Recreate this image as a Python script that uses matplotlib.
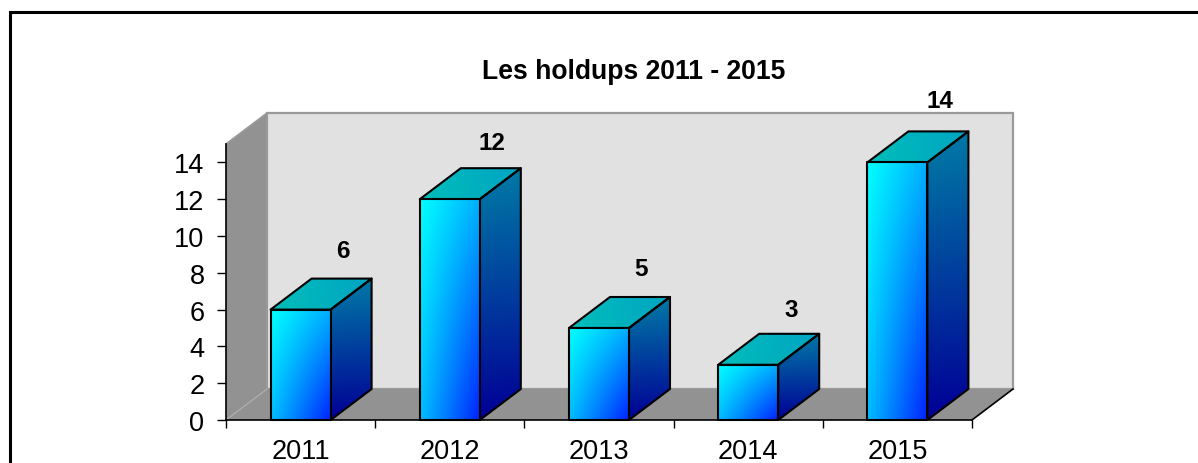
import numpy as np
import matplotlib
matplotlib.use("Agg")
import matplotlib.pyplot as plt
from matplotlib.patches import Polygon
from matplotlib.lines import Line2D

plt.rcParams['font.family'] = ['Liberation Sans', 'DejaVu Sans']

# Data
years = ['2011', '2012', '2013', '2014', '2015']
holdups = [6, 12, 5, 3, 14]
yticks = [0, 2, 4, 6, 8, 10, 12, 14]
title = 'Les holdups 2011 - 2015'

W, H = 1198, 464
DPI = 100
fig = plt.figure(figsize=(W / DPI, H / DPI), dpi=DPI, facecolor='white')

# front plane of the 3D chart, in pixels
L, R, B, T = 226.0, 972.0, 421.0, 145.0
ax = fig.add_axes([L / W, 1 - B / H, (R - L) / W, (B - T) / H])
XMAX, YMAX = len(years), 15.0
ax.set_facecolor('none')
ax.set_xlim(0, XMAX)
ax.set_ylim(0, YMAX)

# depth in data units
DX = 41.0 * XMAX / (R - L)
DY = 31.0 * YMAX / (B - T)
BW = 60.0 * XMAX / (R - L)

# walls
ax.add_patch(Polygon([(0, 0), (DX, DY), (DX, YMAX + DY), (0, YMAX)], closed=True,
                     fc='#929292', ec='none', clip_on=False, zorder=1))
ax.add_patch(Polygon([(DX, DY), (XMAX + DX, DY), (XMAX + DX, YMAX + DY), (DX, YMAX + DY)],
                     closed=True, fc='#E1E1E1', ec='#9A9A9A', lw=1.6, clip_on=False, zorder=1))
ax.add_line(Line2D([0, DX], [YMAX, YMAX + DY], color='#9A9A9A', lw=1.2, clip_on=False, zorder=1.5))
ax.add_patch(Polygon([(0, 0), (XMAX, 0), (XMAX + DX, DY), (DX, DY)], closed=True,
                     fc='#929292', ec='none', clip_on=False, zorder=1.2))
ax.add_line(Line2D([0, DX], [0, DY], color='#B0B0B0', lw=0.8, clip_on=False, zorder=1.3))
ax.add_line(Line2D([XMAX, XMAX + DX], [0, DY], color='black', lw=1.2, clip_on=False, zorder=1.3))


def gradient(poly, extent, c00, c10, c01, c11, z):
    """Fill polygon with bilinear gradient; c<u><v>: u left->right, v top->bottom."""
    n = 64
    u, v = np.meshgrid(np.linspace(0, 1, n), np.linspace(0, 1, n))
    u, v = u[..., None], v[..., None]
    c = [np.array(k, float) / 255 for k in (c00, c10, c01, c11)]
    img = (1 - u) * (1 - v) * c[0] + u * (1 - v) * c[1] + (1 - u) * v * c[2] + u * v * c[3]
    im = ax.imshow(img, extent=extent, origin='upper', aspect='auto', zorder=z,
                   interpolation='bilinear')
    im.set_clip_box(fig.bbox)
    im.set_clip_path(Polygon(poly, closed=True, transform=ax.transData))
    ax.add_patch(Polygon(poly, closed=True, fc='none', ec='black', lw=1.5, clip_on=False,
                         zorder=z + 0.1, joinstyle='round'))


label_dy = [59, 57, 59, 55, 62]  # pixels above the bar top
label_dx = [42, 42, 42, 43, 43]
for i, (yr, v) in enumerate(zip(years, holdups)):
    x0 = i + 0.5 - BW / 2
    x1 = i + 0.5 + BW / 2
    z = 3 + i
    # side
    gradient([(x1, 0), (x1 + DX, DY), (x1 + DX, v + DY), (x1, v)],
             (x1, x1 + DX, 0, v + DY),
             (0, 125, 165), (0, 120, 165), (0, 0, 150), (0, 0, 150), z)
    # top
    gradient([(x0, v), (x1, v), (x1 + DX, v + DY), (x0 + DX, v + DY)],
             (x0, x1 + DX, v, v + DY),
             (0, 190, 190), (0, 165, 195), (0, 190, 185), (0, 165, 190), z)
    # front
    gradient([(x0, 0), (x1, 0), (x1, v), (x0, v)],
             (x0, x1, 0, v),
             (0, 255, 255), (0, 175, 255), (0, 190, 255), (0, 35, 255), z + 0.3)
    ax.annotate(str(v), xy=(i + 0.5, v), xytext=(label_dx[i] * 72 / DPI, label_dy[i] * 72 / DPI),
                textcoords='offset points', ha='center', va='center',
                fontsize=17.5, fontweight='bold', color='black', zorder=20,
                annotation_clip=False)

ax.set_xlim(0, XMAX)
ax.set_ylim(0, YMAX)

for s in ('top', 'right'):
    ax.spines[s].set_visible(False)
for s in ('left', 'bottom'):
    ax.spines[s].set_linewidth(1.2)
    ax.spines[s].set_color('black')
ax.spines['left'].set_zorder(2)
ax.spines['bottom'].set_zorder(15)

ax.set_yticks(yticks)
ax.set_xticks(np.arange(XMAX + 1))
ax.set_xticklabels([])
ax.set_xticks(np.arange(XMAX) + 0.5, minor=True)
ax.set_xticklabels(years, minor=True)
ax.tick_params(axis='x', which='major', length=6, width=1, color='black', direction='out')
ax.tick_params(axis='x', which='minor', length=0, pad=13, labelsize=19.5)
ax.tick_params(axis='y', length=6.5, width=1, labelsize=19.5, pad=9)
for lab in ax.get_yticklabels():
    lab.set_verticalalignment('center_baseline')

fig.text(633.5 / W, 1 - 72 / H, title, ha='center', va='center',
         fontsize=19.1, fontweight='bold', color='black')

# outer frame: left and top edges only, the rest is cropped off
fig.add_artist(Line2D([9.5 / W, 9.5 / W, 1.0], [0.0, 1 - 12.5 / H, 1 - 12.5 / H],
                      transform=fig.transFigure, color='black', lw=2.2,
                      solid_joinstyle='miter'))

fig.savefig('out.png', dpi=DPI, facecolor='white')
